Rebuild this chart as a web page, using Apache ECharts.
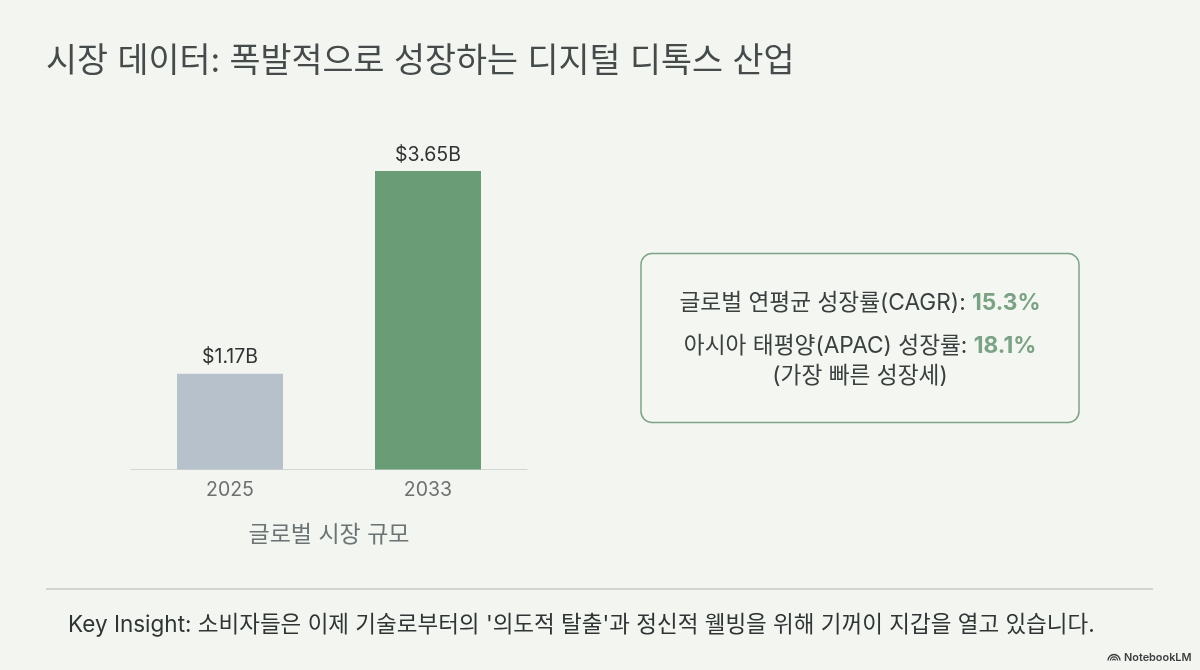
<!DOCTYPE html>
<html><head><meta charset="utf-8">
<style>html,body{margin:0;padding:0;background:#f3f5f0}#c{width:1200px;height:670px}</style>
<script src="https://cdn.jsdelivr.net/npm/echarts@6/dist/echarts.min.js"></script>
</head><body><div id="c"></div>
<script>
const categories = ['2025', '2033'];
const marketSize = [1.17, 3.65];
const valueLabels = ['$1.17B', '$3.65B'];
const barColors = ['#b7c1cb', '#6a9c75'];
const titleText = '시장 데이터: 폭발적으로 성장하는 디지털 디톡스 산업';
const axisName = '글로벌 시장 규모';
const cagrLabel = '글로벌 연평균 성장률(CAGR): ';
const cagrValue = '15.3%';
const apacLabel = '아시아 태평양(APAC) 성장률: ';
const apacValue = '18.1%';
const apacNote = '(가장 빠른 성장세)';
const insight = "Key Insight: 소비자들은 이제 기술로부터의 '의도적 탈출'과 정신적 웰빙을 위해 기꺼이 지갑을 열고 있습니다.";
const brand = 'NotebookLM';

const FONT = 'Inter, "Noto Sans CJK KR", sans-serif';
const rich = {
  t: { fontFamily: FONT, fontSize: 22.7, fill: '#3a4040', color: '#3a4040' },
  v: { fontFamily: FONT, fontSize: 22.7, fontWeight: 700, fill: '#7ba284', color: '#7ba284' }
};
const chart = echarts.init(document.getElementById('c'));
chart.setOption({
  backgroundColor: '#f3f5f0',
  animation: false,
  textStyle: { fontFamily: FONT },
  grid: { left: 131, top: 171, width: 396, height: 298.5, containLabel: false },
  xAxis: {
    type: 'category', data: categories,
    axisTick: { show: false },
    axisLine: { lineStyle: { color: '#d3d7d3', width: 1 } },
    axisLabel: { color: '#6b7070', fontSize: 19.5, margin: 11, fontFamily: FONT },
    name: axisName, nameLocation: 'middle', nameGap: 54,
    nameTextStyle: { color: '#6b7474', fontSize: 23, fontFamily: FONT }
  },
  yAxis: { type: 'value', min: 0, max: 3.65, show: false, splitLine: { show: false } },
  series: [{
    type: 'bar', barWidth: 106,
    data: marketSize.map((v, i) => ({ value: v, itemStyle: { color: barColors[i] } })),
    label: {
      show: true, position: 'top', distance: 6.5, color: '#2f3333', fontSize: 19.5, fontFamily: FONT,
      formatter: p => valueLabels[p.dataIndex]
    }
  }],
  graphic: [
    { type: 'text', left: 46, top: 45, style: { text: titleText, fill: '#454b4b', fontSize: 33.7, fontFamily: FONT } },
    { type: 'rect', shape: { x: 641, y: 253.5, width: 438, height: 169, r: 11 },
      style: { fill: 'rgba(255,255,255,0.12)', stroke: '#7fa388', lineWidth: 1.5 } },
    { type: 'text', x: 860, y: 303, style: { text: '{t|' + cagrLabel + '}{v|' + cagrValue + '}', rich, align: 'center', verticalAlign: 'middle' } },
    { type: 'text', x: 860, y: 346, style: { text: '{t|' + apacLabel + '}{v|' + apacValue + '}', rich, align: 'center', verticalAlign: 'middle' } },
    { type: 'text', x: 860, y: 376, style: { text: '{t|' + apacNote + '}', rich, align: 'center', verticalAlign: 'middle' } },
    { type: 'line', shape: { x1: 46, y1: 589, x2: 1153, y2: 589 }, style: { stroke: '#aeb3ae', lineWidth: 1 } },
    { type: 'text', x: 68, y: 625, style: { text: insight, fill: '#2f3535', fontSize: 22.5, fontFamily: FONT, verticalAlign: 'middle' } },
    { type: 'arc', shape: { cx: 1114, cy: 660.5, r: 6, startAngle: Math.PI, endAngle: 0 }, style: { fill: 'none', stroke: '#3a3f3f', lineWidth: 1.3 } },
    { type: 'arc', shape: { cx: 1114, cy: 660.5, r: 3.6, startAngle: Math.PI, endAngle: 0 }, style: { fill: 'none', stroke: '#3a3f3f', lineWidth: 1.3 } },
    { type: 'arc', shape: { cx: 1114, cy: 660.5, r: 1.4, startAngle: Math.PI, endAngle: 0 }, style: { fill: 'none', stroke: '#3a3f3f', lineWidth: 1.2 } },
    { type: 'text', x: 1124, y: 657.5, style: { text: brand, fill: '#3a3f3f', fontSize: 10.9, fontWeight: 600, fontFamily: FONT, verticalAlign: 'middle' } }
  ]
});
</script></body></html>
